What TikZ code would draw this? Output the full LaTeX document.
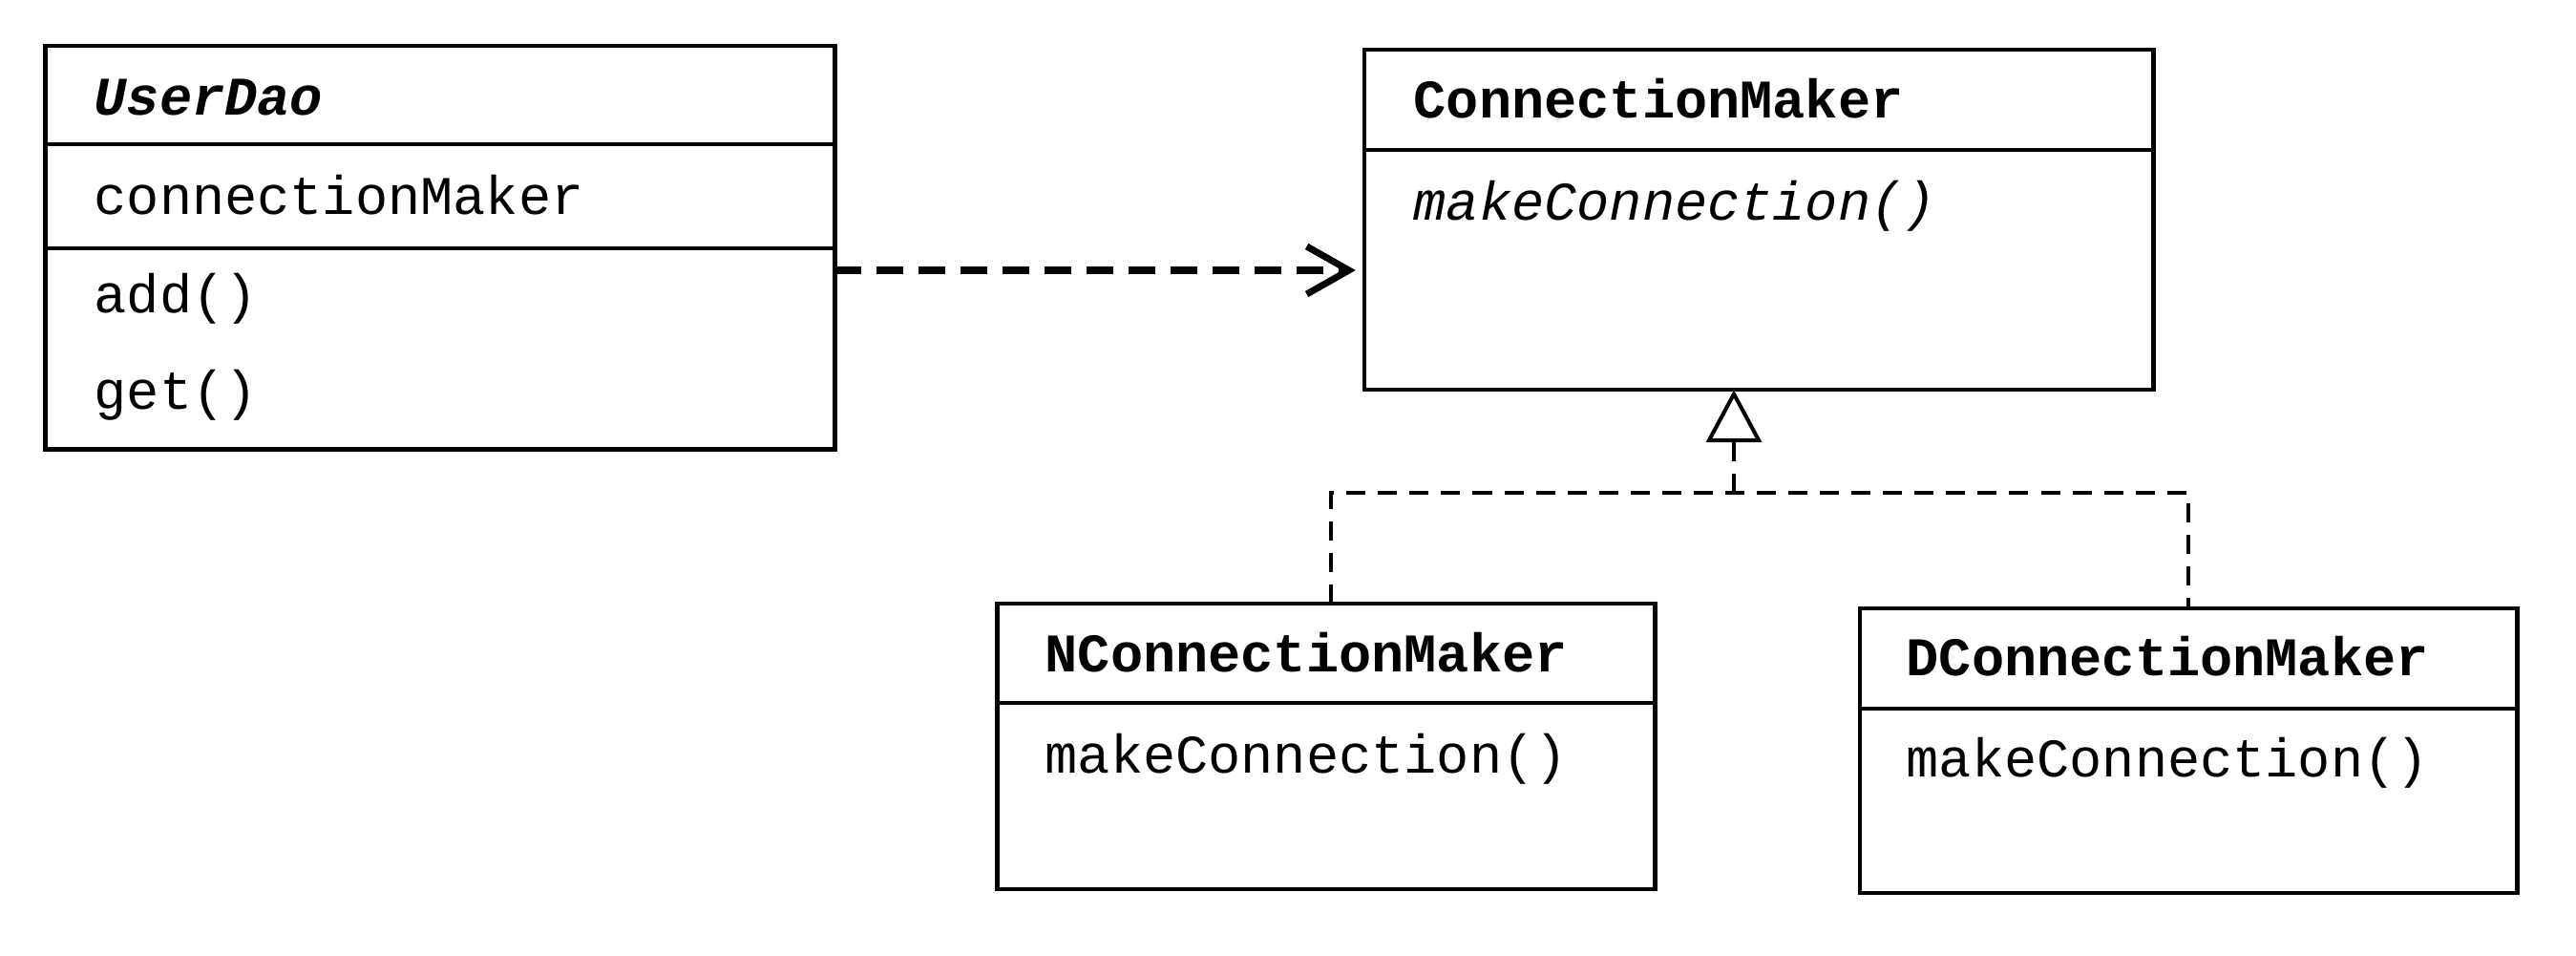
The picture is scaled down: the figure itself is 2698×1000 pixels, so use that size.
\documentclass[tikz,border=0pt]{standalone}
\usepackage{fontspec}
\usepackage{tikz}
\usetikzlibrary{arrows.meta, positioning, calc}
\newfontfamily\umlfont{Liberation Mono}

\begin{document}
\begin{tikzpicture}[
  x=0.01cm, y=-0.01cm,
  part/.style = {
    rectangle, draw, line width=1.3pt,
    inner sep=0pt, outer sep=0pt, anchor=north
  },
  member/.style = {
    anchor=base west, inner sep=0pt,
    font=\umlfont\fontsize{16.2}{19}\selectfont
  },
  dep/.style = {
    line width=2pt, dash pattern=on 8pt off 4.5pt,
    -{Straight Barb[length=0.44cm, width=0.5cm, line width=2pt]}
  },
  impl/.style = {line width=1.15pt, dash pattern=on 5.7pt off 3.7pt}
]
\useasboundingbox (0,0) rectangle (2698,1000);

% UserDao
\node[part, minimum width=8.26cm, minimum height=1.03cm] (udTitle) at (461,48) {};
\node[part, minimum width=8.26cm, minimum height=1.09cm] (udAttr) at (udTitle.south) {};
\node[part, minimum width=8.26cm, minimum height=2.10cm] (udOps) at (udAttr.south) {};
\node[member, font=\umlfont\fontsize{16.2}{19}\selectfont\bfseries\itshape] (udName) at (98,120) {UserDao};
\node[member] (udField) at (98,224) {connectionMaker};
\node[member] (udAdd) at (98,327) {add()};
\node[member] (udGet) at (98,428) {get()};

% ConnectionMaker
\node[part, minimum width=8.26cm, minimum height=1.05cm] (cmTitle) at (1842,52) {};
\node[part, minimum width=8.26cm, minimum height=2.51cm] (cmOps) at (cmTitle.south) {};
\node[member, font=\umlfont\fontsize{16.2}{19}\selectfont\bfseries] (cmName) at (1480,123) {ConnectionMaker};
\node[member, font=\umlfont\fontsize{16.2}{19}\selectfont\itshape] (cmMake) at (1480,230) {makeConnection()};

% NConnectionMaker
\node[part, minimum width=6.89cm, minimum height=1.04cm] (ncTitle) at (1389,632) {};
\node[part, minimum width=6.89cm, minimum height=1.95cm] (ncOps) at (ncTitle.south) {};
\node[member, font=\umlfont\fontsize{16.2}{19}\selectfont\bfseries] (ncName) at (1094,703) {NConnectionMaker};
\node[member] (ncMake) at (1094,809) {makeConnection()};

% DConnectionMaker
\node[part, minimum width=6.88cm, minimum height=1.05cm] (dcTitle) at (2292,637) {};
\node[part, minimum width=6.88cm, minimum height=1.93cm] (dcOps) at (dcTitle.south) {};
\node[member, font=\umlfont\fontsize{16.2}{19}\selectfont\bfseries] (dcName) at (1996,707) {DConnectionMaker};
\node[member] (dcMake) at (1996,813) {makeConnection()};

% dependency UserDao -> ConnectionMaker
\coordinate (depStart) at (udOps.east |- 0,283);
\draw[dep, shorten >=0.09cm] (depStart) -- (cmOps.west |- depStart);

% realization
\coordinate (split) at (1816,516);
\draw[impl] ([xshift=0.05cm]ncTitle.north) |- (split) -| (dcTitle.north);
\draw[impl, -{Triangle[open, length=0.55cm, width=0.58cm, line width=1.15pt]}]
  (split) -- (cmOps.south -| split);

\end{tikzpicture}
\end{document}
